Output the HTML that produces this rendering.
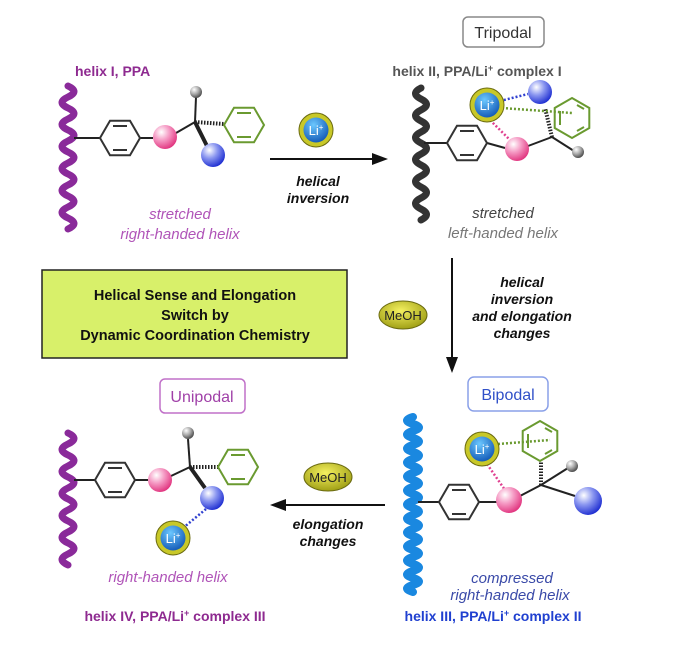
<!DOCTYPE html>
<html><head><meta charset="utf-8"><style>
html,body{margin:0;padding:0;background:#fff;}
svg{display:block;font-family:"Liberation Sans",sans-serif;}
</style></head><body>
<svg width="676" height="647" viewBox="0 0 676 647" xmlns="http://www.w3.org/2000/svg">
<defs>
<radialGradient id="gPink" cx="0.35" cy="0.3" r="0.75"><stop offset="0" stop-color="#fff"/><stop offset="0.45" stop-color="#f59ac4"/><stop offset="1" stop-color="#e0307c"/></radialGradient>
<radialGradient id="gBlue" cx="0.35" cy="0.3" r="0.75"><stop offset="0" stop-color="#fff"/><stop offset="0.45" stop-color="#8a96f0"/><stop offset="1" stop-color="#1a2ad0"/></radialGradient>
<radialGradient id="gGrey" cx="0.35" cy="0.3" r="0.75"><stop offset="0" stop-color="#fff"/><stop offset="0.5" stop-color="#aaa"/><stop offset="1" stop-color="#444"/></radialGradient>
<radialGradient id="gLi" cx="0.4" cy="0.3" r="0.8"><stop offset="0" stop-color="#6cc8ff"/><stop offset="1" stop-color="#0a4fb0"/></radialGradient>
<radialGradient id="gMe" cx="0.45" cy="0.35" r="0.7"><stop offset="0" stop-color="#f4f060"/><stop offset="1" stop-color="#9a9a10"/></radialGradient>
<g id="bz" fill="none" stroke-width="2"><polygon points="20,0 10,17.3 -10,17.3 -20,0 -10,-17.3 10,-17.3"/><line x1="-7" y1="-12" x2="7" y2="-12"/><line x1="-7" y1="12" x2="7" y2="12"/></g>
<g id="bzg" fill="none" stroke-width="2"><polygon points="0,-20 17.3,-10 17.3,10 0,20 -17.3,10 -17.3,-10"/><line x1="-12" y1="-7" x2="-12" y2="7"/><line x1="5" y1="-13" x2="12" y2="-9"/><line x1="5" y1="13" x2="12" y2="9"/></g>
<g id="li"><circle r="17" fill="#c8c828" stroke="#6a6a10" stroke-width="1"/><circle r="12.5" fill="url(#gLi)"/><text x="0" y="5" font-size="13" fill="#fff" text-anchor="middle">Li<tspan font-size="8" dy="-5">+</tspan></text></g>
<g id="me"><ellipse rx="24" ry="14" fill="url(#gMe)" stroke="#6a6a10"/><text y="5" font-size="13" text-anchor="middle" fill="#222">MeOH</text></g>
</defs>

<!-- Panel 1 -->
<text x="75" y="76" font-size="14" font-weight="bold" fill="#8e2a90">helix I, PPA</text>
<path d="M68,86 q12,5.5 0,11 t0,11 t0,11 t0,11 t0,11 t0,11 t0,11 t0,11 t0,11 t0,11 t0,11 t0,11 t0,11" fill="none" stroke="#8a2a9a" stroke-width="7" stroke-linecap="round"/>
<g stroke="#222" stroke-width="2"><line x1="74" y1="138" x2="100" y2="138"/><line x1="140" y1="138" x2="153" y2="138"/><line x1="176" y1="133" x2="195" y2="122"/><line x1="195" y1="122" x2="196" y2="97"/><line x1="195" y1="122" x2="207" y2="146" stroke-width="4"/><line x1="195" y1="122" x2="224" y2="124" stroke-dasharray="1.5,1.5" stroke-width="4"/></g>
<use href="#bz" x="120" y="138" stroke="#333"/>
<use href="#bz" x="244" y="125" stroke="#6a9a30"/>
<circle cx="165" cy="137" r="12" fill="url(#gPink)"/>
<circle cx="196" cy="92" r="6" fill="url(#gGrey)"/>
<circle cx="213" cy="155" r="12" fill="url(#gBlue)"/>
<text x="180" y="219" font-size="15" font-style="italic" fill="#b054b8" text-anchor="middle">stretched</text>
<text x="180" y="239" font-size="15" font-style="italic" fill="#b054b8" text-anchor="middle">right-handed  helix</text>

<use href="#li" x="316" y="130"/>
<line x1="270" y1="159" x2="375" y2="159" stroke="#111" stroke-width="2"/>
<polygon points="388,159 372,153 372,165" fill="#111"/>
<text x="318" y="186" font-size="14" font-weight="bold" font-style="italic" text-anchor="middle" fill="#111">helical</text>
<text x="318" y="203" font-size="14" font-weight="bold" font-style="italic" text-anchor="middle" fill="#111">inversion</text>

<!-- Panel 2 -->
<rect x="463" y="17" width="81" height="30" rx="5" fill="#fff" stroke="#888" stroke-width="1.5"/>
<text x="503" y="38" font-size="16" text-anchor="middle" fill="#333">Tripodal</text>
<text x="477" y="76" font-size="14" font-weight="bold" fill="#555" text-anchor="middle">helix II, PPA/Li<tspan font-size="9" dy="-5">+</tspan><tspan dy="5"> complex I</tspan></text>
<path d="M421,88 q-11,5.5 0,11 t0,11 t0,11 t0,11 t0,11 t0,11 t0,11 t0,11 t0,11 t0,11 t0,11 t0,11" fill="none" stroke="#333" stroke-width="7" stroke-linecap="round"/>
<g stroke="#222" stroke-width="2"><line x1="424" y1="143" x2="447" y2="143"/><line x1="487" y1="143" x2="505" y2="148"/><line x1="528" y1="146" x2="552" y2="137"/><line x1="552" y1="137" x2="574" y2="151"/><line x1="552" y1="137" x2="545" y2="108" stroke-dasharray="1.5,1.5" stroke-width="4"/></g>
<g stroke-dasharray="2,2" stroke-width="2.5"><line x1="500" y1="101" x2="528" y2="94" stroke="#3040d0"/><line x1="502" y1="108" x2="572" y2="113" stroke="#6a9a30"/><line x1="490" y1="120" x2="510" y2="140" stroke="#e04090"/></g>
<use href="#bz" x="467" y="143" stroke="#333"/>
<use href="#bzg" x="572" y="118" stroke="#6a9a30"/>
<circle cx="540" cy="92" r="12" fill="url(#gBlue)"/>
<circle cx="517" cy="149" r="12" fill="url(#gPink)"/>
<circle cx="578" cy="152" r="6" fill="url(#gGrey)"/>
<use href="#li" x="487" y="105"/>
<text x="503" y="218" font-size="15" font-style="italic" fill="#444" text-anchor="middle">stretched</text>
<text x="503" y="238" font-size="15" font-style="italic" fill="#777" text-anchor="middle">left-handed helix</text>

<line x1="452" y1="258" x2="452" y2="360" stroke="#111" stroke-width="2"/>
<polygon points="452,373 446,357 458,357" fill="#111"/>
<g font-size="14" font-weight="bold" font-style="italic" text-anchor="middle" fill="#111"><text x="522" y="287">helical</text><text x="522" y="304">inversion</text><text x="522" y="321">and elongation</text><text x="522" y="338">changes</text></g>
<use href="#me" x="403" y="315"/>

<rect x="42" y="270" width="305" height="88" fill="#d8f06a" stroke="#222" stroke-width="1.5"/>
<g font-size="14.5" font-weight="bold" text-anchor="middle" fill="#111"><text x="195" y="300">Helical Sense and Elongation</text><text x="195" y="320">Switch by</text><text x="195" y="340">Dynamic Coordination Chemistry</text></g>

<!-- Panel 3 -->
<rect x="468" y="377" width="80" height="34" rx="6" fill="#fff" stroke="#8aa0e8" stroke-width="1.5"/>
<text x="508" y="400" font-size="16" text-anchor="middle" fill="#3050c8">Bipodal</text>
<path d="M413,417 q-12,3.5 0,7 t0,7 t0,7 t0,7 t0,7 t0,7 t0,7 t0,7 t0,7 t0,7 t0,7 t0,7 t0,7 t0,7 t0,7 t0,7 t0,7 t0,7 t0,7 t0,7 t0,7 t0,7 t0,7 t0,7 t0,7" fill="none" stroke="#1a88e0" stroke-width="8" stroke-linecap="round"/>
<g stroke="#222" stroke-width="2"><line x1="418" y1="502" x2="439" y2="502"/><line x1="479" y1="502" x2="497" y2="502"/><line x1="520" y1="496" x2="541" y2="485"/><line x1="541" y1="485" x2="568" y2="468"/><line x1="541" y1="485" x2="575" y2="496"/><line x1="541" y1="485" x2="541" y2="462" stroke-dasharray="1.5,1.5" stroke-width="4"/></g>
<g stroke-dasharray="2,2" stroke-width="2.5"><line x1="498" y1="444" x2="550" y2="440" stroke="#6a9a30"/><line x1="487" y1="464" x2="505" y2="490" stroke="#e04090"/></g>
<use href="#bz" x="459" y="502" stroke="#333"/>
<use href="#bzg" x="540" y="441" stroke="#6a9a30"/>
<circle cx="509" cy="500" r="13" fill="url(#gPink)"/>
<circle cx="572" cy="466" r="6" fill="url(#gGrey)"/>
<circle cx="588" cy="501" r="14" fill="url(#gBlue)"/>
<use href="#li" x="482" y="449"/>
<text x="512" y="583" font-size="15" font-style="italic" fill="#3a4aa8" text-anchor="middle">compressed</text>
<text x="510" y="600" font-size="15" font-style="italic" fill="#3a4aa8" text-anchor="middle">right-handed helix</text>
<text x="493" y="621" font-size="14" font-weight="bold" fill="#2040d0" text-anchor="middle">helix III, PPA/Li<tspan font-size="9" dy="-5">+</tspan><tspan dy="5"> complex II</tspan></text>

<!-- Panel 4 -->
<rect x="160" y="379" width="85" height="34" rx="5" fill="#fff" stroke="#c070c8" stroke-width="1.5"/>
<text x="202" y="402" font-size="16" text-anchor="middle" fill="#a040a8">Unipodal</text>
<path d="M68,433 q12,5.5 0,11 t0,11 t0,11 t0,11 t0,11 t0,11 t0,11 t0,11 t0,11 t0,11 t0,11 t0,11" fill="none" stroke="#8a2a9a" stroke-width="7" stroke-linecap="round"/>
<g stroke="#222" stroke-width="2"><line x1="74" y1="480" x2="95" y2="480"/><line x1="135" y1="480" x2="148" y2="480"/><line x1="171" y1="476" x2="190" y2="467"/><line x1="190" y1="467" x2="188" y2="439"/><line x1="190" y1="467" x2="205" y2="488" stroke-width="4"/><line x1="190" y1="467" x2="218" y2="467" stroke-dasharray="1.5,1.5" stroke-width="4"/></g>
<line x1="206" y1="509" x2="183" y2="528" stroke="#3040d0" stroke-width="2.5" stroke-dasharray="2,2"/>
<use href="#bz" x="115" y="480" stroke="#333"/>
<use href="#bz" x="238" y="467" stroke="#6a9a30"/>
<circle cx="160" cy="480" r="12" fill="url(#gPink)"/>
<circle cx="188" cy="433" r="6" fill="url(#gGrey)"/>
<circle cx="212" cy="498" r="12" fill="url(#gBlue)"/>
<use href="#li" x="173" y="538"/>
<text x="168" y="582" font-size="15" font-style="italic" fill="#b054b8" text-anchor="middle">right-handed helix</text>
<text x="175" y="621" font-size="14" font-weight="bold" fill="#8e2a90" text-anchor="middle">helix IV, PPA/Li<tspan font-size="9" dy="-5">+</tspan><tspan dy="5"> complex III</tspan></text>

<use href="#me" x="328" y="477"/>
<line x1="385" y1="505" x2="283" y2="505" stroke="#111" stroke-width="2"/>
<polygon points="270,505 286,499 286,511" fill="#111"/>
<text x="328" y="529" font-size="14" font-weight="bold" font-style="italic" text-anchor="middle" fill="#111">elongation</text>
<text x="328" y="546" font-size="14" font-weight="bold" font-style="italic" text-anchor="middle" fill="#111">changes</text>
</svg>
</body></html>
